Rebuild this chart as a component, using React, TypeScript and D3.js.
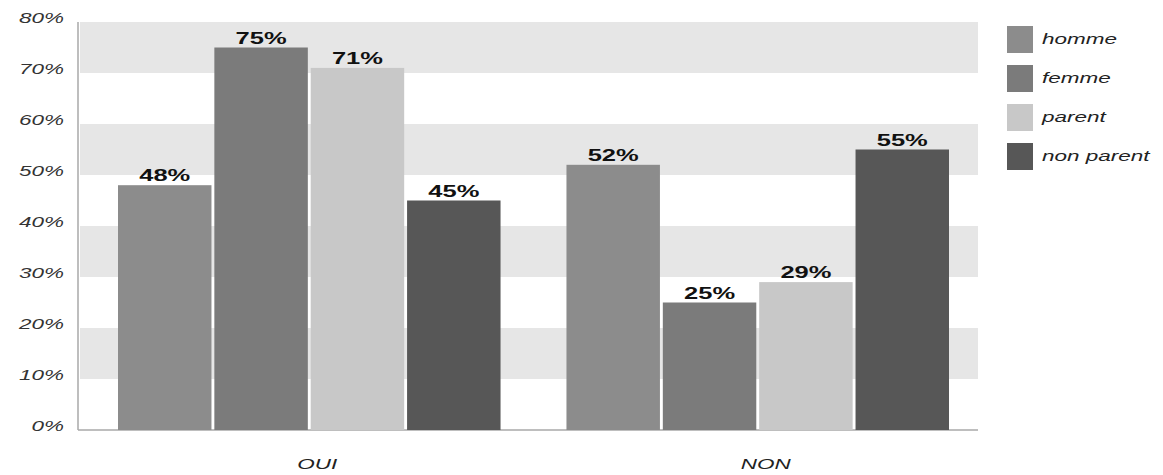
import React from "react";
import * as d3 from "d3";

const categories = ["OUI", "NON"];
const seriesNames = ["homme", "femme", "parent", "non parent"];
const homme = [48, 52];
const femme = [75, 25];
const parent = [71, 29];
const nonParent = [45, 55];
const yTicks = [0, 10, 20, 30, 40, 50, 60, 70, 80];
const seriesColors = ["#8c8c8c", "#7b7b7b", "#c8c8c8", "#575757"];

const seriesValues = [homme, femme, parent, nonParent];

// Text drawn with a wide horizontal stretch
function WideText(props: {
  x: number;
  y: number;
  anchor?: "start" | "middle" | "end";
  size: number;
  italic?: boolean;
  bold?: boolean;
  fill: string;
  baseline?: string;
  children: React.ReactNode;
}) {
  const { x, y, anchor = "start", size, italic, bold, fill, baseline, children } = props;
  return (
    <g transform={`translate(${x},${y}) scale(1.5,1)`}>
      <text
        textAnchor={anchor}
        dominantBaseline={baseline}
        fontSize={size}
        fontStyle={italic ? "italic" : "normal"}
        fontWeight={bold ? "bold" : "normal"}
        fill={fill}
      >
        {children}
      </text>
    </g>
  );
}

export default function App() {
  const width = 1163;
  const height = 475;
  const plotLeft = 78;
  const plotRight = 978;
  const y = d3.scaleLinear().domain([0, 80]).range([430, 22]);
  const x0 = d3.scaleBand<string>().domain(categories).range([118, 949]).paddingInner(0.147).paddingOuter(0);
  const x1 = d3.scaleBand<string>().domain(seriesNames).range([0, x0.bandwidth()]).paddingInner(0.03).paddingOuter(0);

  // alternating light bands: 10-20, 30-40, 50-60, 70-80
  const bands = d3.range(1, 8, 2).map((lo) => [lo * 10, lo * 10 + 10]);
  const font = "'Liberation Sans', Arial, sans-serif";

  return (
    <svg width={width} height={height} style={{ position: "absolute", left: 0, top: 0 }} fontFamily={font}>
      <rect width={width} height={height} fill="#ffffff" />
      {bands.map(([lo, hi]) => (
        <rect key={lo} x={plotLeft + 2} y={y(hi)} width={plotRight - plotLeft - 2} height={y(lo) - y(hi)} fill="#e6e6e6" />
      ))}
      <line x1={plotLeft} x2={plotLeft} y1={y(80)} y2={y(0)} stroke="#a8a8a8" strokeWidth={1.5} />
      <line x1={plotLeft} x2={plotRight} y1={y(0)} y2={y(0)} stroke="#a8a8a8" strokeWidth={1.5} />
      {yTicks.map((t) => (
        <WideText key={t} x={64} y={y(t) - 3} anchor="end" baseline="middle" size={15} italic fill="#333">
          {t}%
        </WideText>
      ))}
      {categories.map((c, ci) => (
        <g key={c} transform={`translate(${x0(c)},0)`}>
          {seriesNames.map((s, si) => {
            const v = seriesValues[si][ci];
            const bx = x1(s)!;
            const bw = x1.bandwidth();
            return (
              <g key={s}>
                <rect x={bx} y={y(v)} width={bw} height={y(0) - y(v)} fill={seriesColors[si]} />
                <WideText x={bx + bw / 2} y={y(v) - 4} anchor="middle" size={17} bold fill="#111">
                  {v}%
                </WideText>
              </g>
            );
          })}
          <WideText x={x0.bandwidth() / 2 + 8} y={469} anchor="middle" size={15} italic fill="#222">
            {c}
          </WideText>
        </g>
      ))}
      {seriesNames.map((s, si) => (
        <g key={s} transform={`translate(1007,${26 + si * 39})`}>
          <rect width={26} height={27} fill={seriesColors[si]} />
          <WideText x={35} y={14} baseline="middle" size={15} italic fill="#222">
            {s}
          </WideText>
        </g>
      ))}
    </svg>
  );
}
